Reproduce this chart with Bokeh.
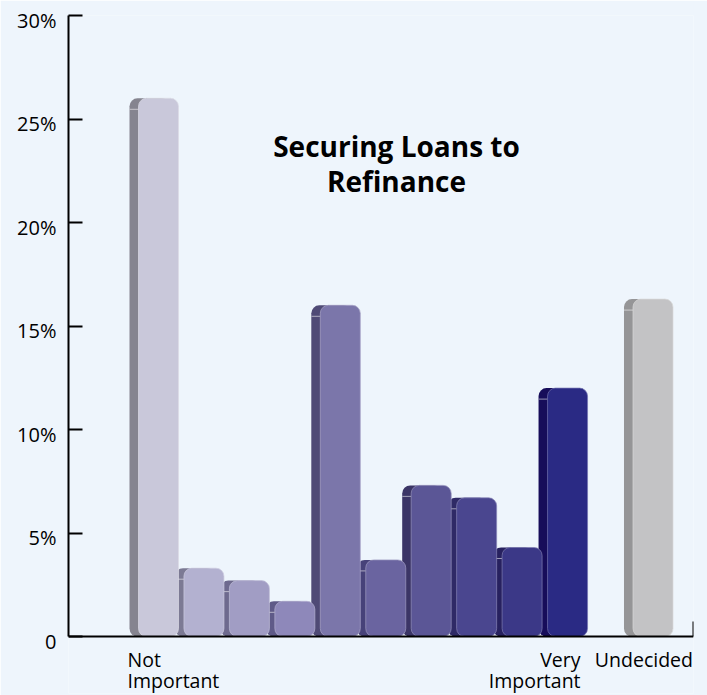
from bokeh.plotting import figure
from bokeh.models import Range1d, LinearAxis, FixedTicker, Label, ColumnDataSource
from bokeh.embed import file_html
from bokeh.resources import INLINE

# ---- data ----
categories = ["Not Important", "2", "3", "4", "5", "6", "7", "8", "9",
              "Very Important", "Undecided"]
values = [26.0, 3.3, 2.7, 1.7, 16.0, 3.7, 7.3, 6.7, 4.3, 12.0, 16.3]
face_colors = ["#C9C8DA", "#B3B1D0", "#A19DC4", "#8E88BA", "#7B76AA", "#6A64A0",
               "#5B5696", "#4A468F", "#3B3887", "#2A2A84", "#C3C3C5"]
side_colors = ["#85848F", "#7C7A94", "#6E6A8E", "#5F5A88", "#4F4A76", "#474279",
               "#3B3566", "#2F2A66", "#27215F", "#170D5A", "#959597"]
y_ticks = [0, 5, 10, 15, 20, 25, 30]
y_tick_labels = ["0", "5%", "10%", "15%", "20%", "25%", "30%"]
title_lines = ["Securing Loans to", "Refinance"]
x_label_left = ["Not", "Important"]
x_label_right = ["Very", "Important"]
x_label_extra = "Undecided"

# ---- layout ----
BG = "#EEF5FC"
W, H = 707, 695
ML, MR, MT, MB = 68, 14, 15, 2
ZERO_Y = 636                      # canvas y of the zero line
FRAME_W = W - ML - MR
PX = (ZERO_Y - MT) / 30.0         # px per percent
y_lo = -((H - MB) - ZERO_Y) / PX  # frame extends below zero for the category labels
SLOT = 45.45                      # px per category slot
x_start = -(158 - ML) / SLOT
x_end = x_start + FRAME_W / SLOT

positions = [float(i) for i in range(len(categories) - 1)] + [10.88]
bar_w = 40 / SLOT
side_shift = 9 / SLOT


def lighten(c, f):
    r, g, b = int(c[1:3], 16), int(c[3:5], 16), int(c[5:7], 16)
    r = int(r + (255 - r) * f); g = int(g + (255 - g) * f); b = int(b + (255 - b) * f)
    return "#%02x%02x%02x" % (r, g, b)


p = figure(width=W, height=H, x_range=Range1d(x_start, x_end), y_range=Range1d(y_lo, 30),
           output_backend="svg", toolbar_location=None,
           min_border_left=ML, min_border_right=MR, min_border_top=MT, min_border_bottom=MB,
           background_fill_color=BG, border_fill_color=BG, outline_line_color=None)
p.xgrid.visible = False
p.ygrid.visible = False

side_src = ColumnDataSource(dict(x=[x - side_shift for x in positions], top=values,
                                 color=side_colors))
face_src = ColumnDataSource(dict(x=positions, top=values, color=face_colors,
                                 line=[lighten(c, 0.35) for c in face_colors]))
hl_src = ColumnDataSource(dict(x0=[x - bar_w / 2 - side_shift for x in positions],
                               x1=[x - bar_w / 2 for x in positions],
                               y=[v - 11 / PX for v in values],
                               color=[lighten(c, 0.55) for c in side_colors]))

p.vbar(x="x", top="top", bottom=0, width=bar_w, source=side_src, fill_color="color",
       line_color=None, border_radius=8)
p.segment(x0="x0", y0="y", x1="x1", y1="y", source=hl_src, line_color="color",
          line_width=1)
p.vbar(x="x", top="top", bottom=0, width=bar_w, source=face_src, fill_color="color",
       line_color="line", line_width=1, line_alpha=0.7, border_radius=8)

# inner y axis: line and inward ticks, no labels drawn
ya = p.yaxis[0]
ya.bounds = (0, 30)
ya.ticker = FixedTicker(ticks=y_ticks)
ya.major_tick_in = 14
ya.major_tick_out = 0
ya.minor_tick_line_color = None
ya.major_tick_line_width = 2
ya.axis_line_width = 2
ya.axis_line_color = "black"
ya.major_tick_line_color = "black"
ya.major_label_text_color = None
ya.major_label_text_font_size = "1px"
ya.major_label_standoff = 0

# outer y axis: labels only (sitting slightly below their ticks)
d = 4.5 / PX
p.extra_y_ranges = {"lab": Range1d(y_lo + d, 30 + d)}
lab_axis = LinearAxis(y_range_name="lab", ticker=FixedTicker(ticks=y_ticks),
                      major_label_overrides=dict(zip(y_ticks, y_tick_labels)),
                      axis_line_color=None, major_tick_line_color=None,
                      minor_tick_line_color=None, major_label_standoff=6,
                      major_label_text_font="Open Sans", major_label_text_font_size="20px",
                      major_label_text_color="black")
p.add_layout(lab_axis, "left")

# x axis at zero: line with an upward tick at the right end
xa = p.xaxis[0]
xa.fixed_location = 0
xa.ticker = FixedTicker(ticks=[x_end - 1e-6])
xa.major_tick_in = 15
xa.major_tick_out = 0
xa.minor_tick_line_color = None
xa.major_tick_line_width = 2
xa.axis_line_width = 2
xa.axis_line_color = "black"
xa.major_tick_line_color = "black"
xa.major_label_text_color = None
xa.major_label_text_font_size = "1px"
xa.major_label_standoff = 0

FONT = "Open Sans"
CAT_FS = "19.5px"
line_offsets = [-22.5, -44]
for txt, off in zip(x_label_left, line_offsets):
    p.add_layout(Label(x=positions[0], y=0, x_offset=-31, y_offset=off, text=txt,
                       text_font=FONT, text_font_size=CAT_FS, text_align="left",
                       text_baseline="alphabetic", text_color="black"))
for txt, off in zip(x_label_right, line_offsets):
    p.add_layout(Label(x=positions[9], y=0, x_offset=13, y_offset=off, text=txt,
                       text_font=FONT, text_font_size=CAT_FS, text_align="right",
                       text_baseline="alphabetic", text_color="black"))
p.add_layout(Label(x=positions[10], y=0, x_offset=40, y_offset=line_offsets[0],
                   text=x_label_extra, text_font=FONT, text_font_size=CAT_FS,
                   text_align="right", text_baseline="alphabetic", text_color="black"))

title_x = (396 - 158) / SLOT
for txt, base in zip(title_lines, [145, 180]):
    p.add_layout(Label(x=title_x, y=(ZERO_Y - base) / PX, text=txt, text_font=FONT,
                       text_font_size="28px", text_font_style="bold", text_align="center",
                       text_baseline="alphabetic", text_color="black"))

open("out.html", "w").write(file_html(p, INLINE))
